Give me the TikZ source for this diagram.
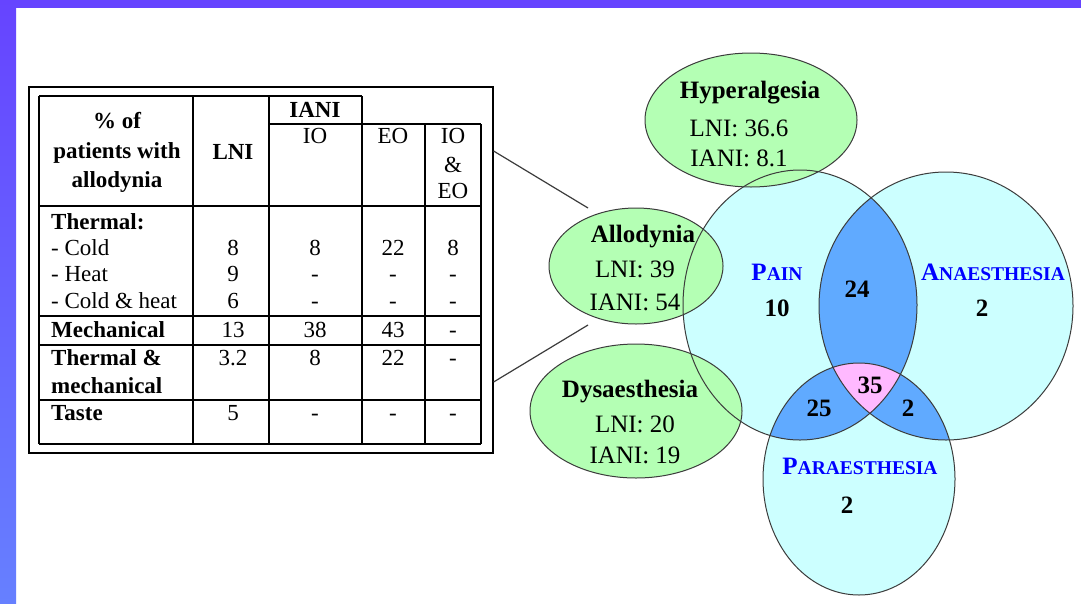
\documentclass[tikz,border=0pt]{standalone}
\usepackage{fontspec}
\setmainfont{Liberation Serif}
\usetikzlibrary{shapes.geometric}
\definecolor{grn}{RGB}{180,255,180}
\definecolor{cyn}{RGB}{204,255,255}
\definecolor{dblue}{RGB}{96,170,255}
\definecolor{pnk}{RGB}{255,185,255}
\definecolor{txtblue}{RGB}{0,0,255}
\definecolor{bartop}{RGB}{102,68,255}
\definecolor{barbot}{RGB}{102,128,255}
\definecolor{edge}{RGB}{60,60,60}
\newcommand\mysc[2]{{\fontsize{25}{30}\selectfont #1}{\fontsize{19.5}{30}\selectfont #2}}
\tikzset{
 tb/.style={font=\fontsize{23}{27}\selectfont\bfseries, inner sep=0pt, anchor=base},
 tr/.style={font=\fontsize{23}{27}\selectfont, inner sep=0pt, anchor=base},
 tbl/.style={font=\fontsize{23}{27}\selectfont\bfseries, inner sep=0pt, anchor=base west},
 trl/.style={font=\fontsize{23}{27}\selectfont, inner sep=0pt, anchor=base west},
 eb/.style={font=\fontsize{25}{30}\selectfont\bfseries, inner sep=0pt, anchor=base},
 er/.style={font=\fontsize{25}{30}\selectfont, inner sep=0pt, anchor=base},
 vn/.style={font=\fontsize{25}{30}\selectfont\bfseries, inner sep=0pt, anchor=base},
 vl/.style={text=txtblue, font=\bfseries, inner sep=0pt, anchor=base},
 greenell/.style={shape=ellipse, fill=grn, draw=edge, line width=1pt, inner sep=0pt, outer sep=0pt},
 venn/.style={draw=edge, line width=1pt},
 tline/.style={line width=1.3pt, black},
 conn/.style={draw=edge, line width=1.2pt},
}
\begin{document}
\begin{tikzpicture}[x=1pt,y=-1pt]
\useasboundingbox (0,0) rectangle (1081,603);
\fill[white] (0,0) rectangle (1081,603);
% border
\fill[bartop] (0,0) rectangle (1081,8);
\shade[top color=bartop, bottom color=barbot] (0,0) rectangle (16,603);

% Venn fills
\fill[cyn] (800,305) ellipse [x radius=117pt, y radius=135pt];
\fill[cyn] (946,306) ellipse [x radius=127pt, y radius=134pt];
\fill[cyn] (859,479) ellipse [x radius=96pt, y radius=116pt];
\begin{scope}
 \clip (800,305) ellipse [x radius=117pt, y radius=135pt];
 \fill[dblue] (946,306) ellipse [x radius=127pt, y radius=134pt];
 \fill[dblue] (859,479) ellipse [x radius=96pt, y radius=116pt];
\end{scope}
\begin{scope}
 \clip (946,306) ellipse [x radius=127pt, y radius=134pt];
 \fill[dblue] (859,479) ellipse [x radius=96pt, y radius=116pt];
\end{scope}
\begin{scope}
 \clip (800,305) ellipse [x radius=117pt, y radius=135pt];
 \clip (946,306) ellipse [x radius=127pt, y radius=134pt];
 \fill[pnk] (859,479) ellipse [x radius=96pt, y radius=116pt];
\end{scope}

% green ellipses
\node[greenell, minimum width=212pt, minimum height=134pt] (hyp) at (751,120) {};
\node[greenell, minimum width=174pt, minimum height=116pt] (allo) at (636,266) {};
\node[greenell, minimum width=212pt, minimum height=134pt] (dys) at (636,411) {};

% Venn outlines
\draw[venn] (800,305) ellipse [x radius=117pt, y radius=135pt];
\draw[venn] (946,306) ellipse [x radius=127pt, y radius=134pt];
\draw[venn] (859,479) ellipse [x radius=96pt, y radius=116pt];

% ellipse texts
\node[eb] (hypT) at (750,98) {Hyperalgesia};
\node[er] (hypL) at (739,136) {LNI: 36.6};
\node[er] (hypI) at (739,166) {IANI: 8.1};
\node[eb] (alloT) at (643,242) {Allodynia};
\node[er] (alloL) at (635,277) {LNI: 39};
\node[er] (alloI) at (635,310) {IANI: 54};
\node[eb] (dysT) at (630,397) {Dysaesthesia};
\node[er] (dysL) at (635,432) {LNI: 20};
\node[er] (dysI) at (635,463) {IANI: 19};

% Venn texts
\node[vl] (painT) at (777,280) {\mysc{P}{AIN}};
\node[vn] (painN) at (777,316) {10};
\node[vl] (anaT) at (993,280) {\mysc{A}{NAESTHESIA}};
\node[vn] (anaN) at (982,316) {2};
\node[vn] (pa) at (857,297) {24};
\node[vn] (pap) at (870,393) {35};
\node[vn] (pp) at (819,416) {25};
\node[vn] (ap) at (908,416) {2};
\node[vl] (parT) at (860,474) {\mysc{P}{ARAESTHESIA}};
\node[vn] (parN) at (847,513) {2};

% table frame
\node[draw=black, line width=1.2pt, minimum width=464pt, minimum height=366pt, inner sep=0pt] (frame) at (261,270) {};
% table grid
\draw[tline] (39,96) -- (362,96);
\draw[tline] (269,124) -- (481,124);
\draw[tline] (39,96) -- (39,444);
\draw[tline] (193,96) -- (193,444);
\draw[tline] (269,96) -- (269,444);
\draw[tline] (362,96) -- (362,444);
\draw[tline] (425,124) -- (425,444);
\draw[tline] (481,124) -- (481,444);
\foreach \yy in {206,316,345,400,444} \draw[tline] (39,\yy) -- (481,\yy);

% header
\node[tb] (h1) at (117,128) {\% of};
\node[tb] (h2) at (117,158) {patients with};
\node[tb] (h3) at (117,187) {allodynia};
\node[tb] (hL) at (233,159) {LNI};
\node[tb] (hI) at (315,117) {IANI};
\node[tr] (hIO) at (315,143) {IO};
\node[tr] (hEO) at (393,143) {EO};
\node[tr] (hB1) at (453,143) {IO};
\node[tr] (hB2) at (453,172) {\&};
\node[tr] (hB3) at (453,198) {EO};

% row labels
\node[tbl] (rTh) at (51,229) {Thermal:};
\node[trl] (rC) at (51,255) {- Cold};
\node[trl] (rH) at (51,281) {- Heat};
\node[trl] (rCH) at (51,308) {- Cold \& heat};
\node[tbl] (rM) at (51,337) {Mechanical};
\node[tbl] (rTM1) at (51,365) {Thermal \&};
\node[tbl] (rTM2) at (51,393) {mechanical};
\node[tbl] (rT) at (51,420) {Taste};

% values
\node[tr] (c1) at (233,255) {8};
\node[tr] (c2) at (315,255) {8};
\node[tr] (c3) at (393,255) {22};
\node[tr] (c4) at (453,255) {8};
\node[tr] (e1) at (233,281) {9};
\node[tr] (e2) at (315,281) {-};
\node[tr] (e3) at (393,281) {-};
\node[tr] (e4) at (453,281) {-};
\node[tr] (k1) at (233,308) {6};
\node[tr] (k2) at (315,308) {-};
\node[tr] (k3) at (393,308) {-};
\node[tr] (k4) at (453,308) {-};
\node[tr] (m1) at (233,337) {13};
\node[tr] (m2) at (315,337) {38};
\node[tr] (m3) at (393,337) {43};
\node[tr] (m4) at (453,337) {-};
\node[tr] (t1v) at (233,365) {3.2};
\node[tr] (t2v) at (315,365) {8};
\node[tr] (t3v) at (393,365) {22};
\node[tr] (t4v) at (453,365) {-};
\node[tr] (s1) at (233,420) {5};
\node[tr] (s2) at (315,420) {-};
\node[tr] (s3) at (393,420) {-};
\node[tr] (s4) at (453,420) {-};

% connectors
\coordinate (fa) at (frame.east |- 0,151);
\coordinate (fb) at (frame.east |- 0,382);
\coordinate (aa) at (588,208);
\coordinate (ab) at (588,325);
\draw[conn] (fa) -- (aa);
\draw[conn] (fb) -- (ab);
\end{tikzpicture}
\end{document}
